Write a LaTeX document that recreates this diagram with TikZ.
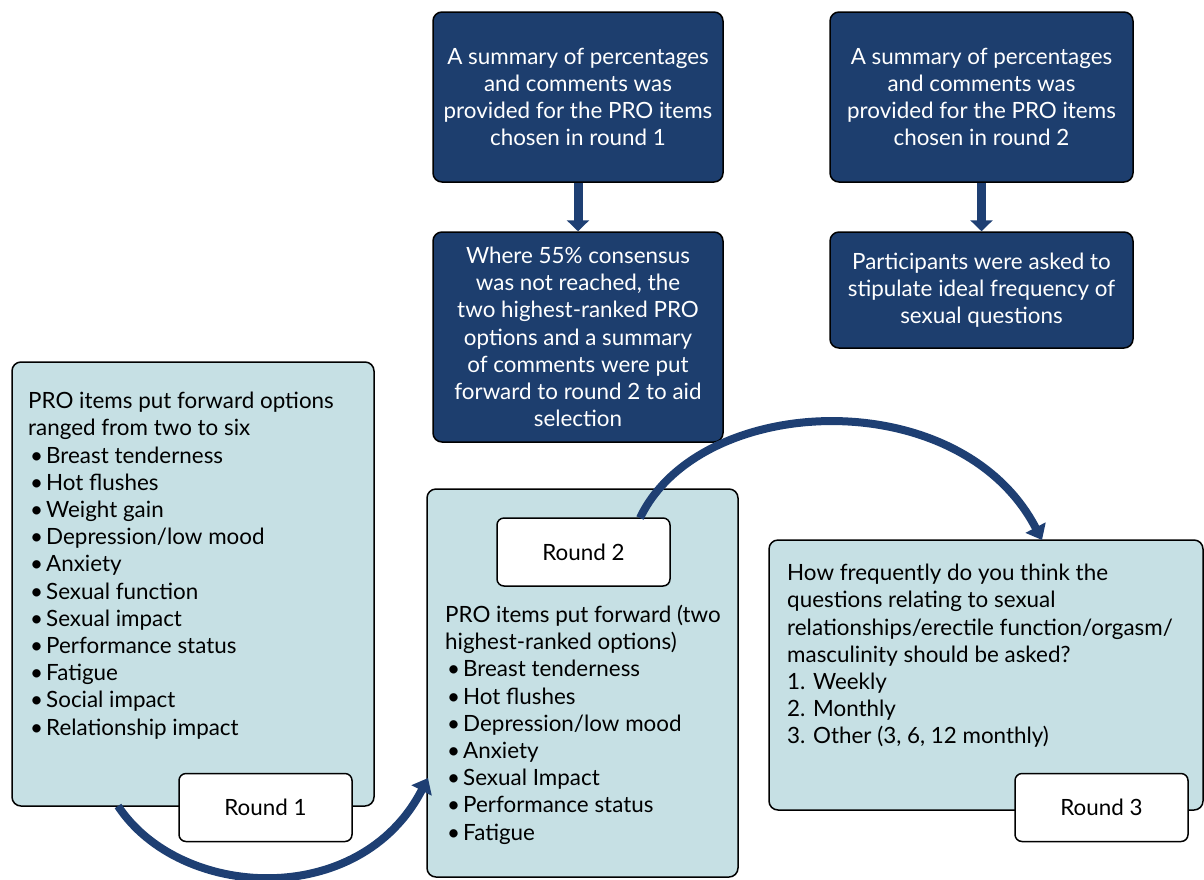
\documentclass[tikz,border=0pt]{standalone}
\usepackage{fontspec}
\setmainfont{Lato}
\usetikzlibrary{arrows.meta}
\definecolor{darkbox}{RGB}{29,62,110}
\definecolor{lightbox}{RGB}{198,224,228}
\definecolor{arrowblue}{RGB}{30,63,115}
\tikzset{
  darkstep/.style={draw=black, line width=1.5pt, fill=darkbox, rounded corners=9pt, text=white, align=center, inner sep=0pt},
  lightstep/.style={draw=black, line width=1.5pt, fill=lightbox, rounded corners=9pt, inner sep=0pt},
  roundlabel/.style={draw=black, line width=1.5pt, fill=white, rounded corners=7pt, inner sep=0pt, minimum width=173pt, minimum height=68pt},
  bodytext/.style={align=left, inner sep=0pt, anchor=north west},
  downarrow/.style={draw=arrowblue, line width=9pt, -{Triangle[width=22pt,length=11pt]}},
  bigarrow/.style={draw=arrowblue, line width=8pt, -{Triangle[width=22pt,length=14pt]}},
}
\newcommand{\bul}[1]{\makebox[18pt][l]{\hspace{2pt}•}#1}
\begin{document}
\begin{tikzpicture}[x=1pt,y=-1pt,font=\fontsize{22.4}{27.2}\selectfont]
\useasboundingbox (0,0) rectangle (1204,879);
% dark boxes
\node[darkstep, minimum width=290pt, minimum height=170pt] (d1) at (578,97)
  {A summary of percentages\\and comments was\\provided for the PRO items\\chosen in round 1};
\node[darkstep, minimum width=303pt, minimum height=170pt] (d2) at (981.5,97)
  {A summary of percentages\\and comments was\\provided for the PRO items\\chosen in round 2};
\node[darkstep, minimum width=290pt, minimum height=210pt] (d3) at (578,337)
  {Where 55\% consensus\\was not reached, the\\two highest-ranked PRO\\options and a summary\\of comments were put\\forward to round 2 to aid\\selection};
\node[darkstep, minimum width=303pt, minimum height=116pt] (d4) at (981.5,290)
  {Participants were asked to\\stipulate ideal frequency of\\sexual questions};
\draw[downarrow] (d1.south) -- (d3.north);
\draw[downarrow] (d2.south) -- (d4.north);
% light boxes
\node[lightstep, minimum width=362pt, minimum height=444pt] (l1) at (193,584) {};
\node[lightstep, minimum width=311pt, minimum height=388pt] (l2) at (582.5,683) {};
\node[lightstep, minimum width=434pt, minimum height=270pt] (l3) at (986,675) {};
% texts
\node[bodytext] (t1) at (28,392) {PRO items put forward options\\ranged from two to six\\
\bul{Breast tenderness}\\\bul{Hot flushes}\\\bul{Weight gain}\\\bul{Depression/low mood}\\
\bul{Anxiety}\\\bul{Sexual function}\\\bul{Sexual impact}\\\bul{Performance status}\\
\bul{Fatigue}\\\bul{Social impact}\\\bul{Relationship impact}};
\node[bodytext] (t2) at (445,605) {PRO items put forward (two\\highest-ranked options)\\
\bul{Breast tenderness}\\\bul{Hot flushes}\\\bul{Depression/low mood}\\\bul{Anxiety}\\
\bul{Sexual Impact}\\\bul{Performance status}\\\bul{Fatigue}};
\node[bodytext] (t3) at (787,564) {How frequently do you think the\\questions relating to sexual\\relationships/erectile function/orgasm/\\masculinity should be asked?\\1. Weekly\\2. Monthly\\3. Other (3, 6, 12 monthly)};
% round labels
\node[roundlabel] (r1) at (265.5,807.5) {Round 1};
\node[roundlabel] (r2) at (583.5,552) {Round 2};
\node[roundlabel] (r3) at (1101.5,807.5) {Round 3};
% curved arrows
\coordinate (a1s) at (118,806);
\coordinate (a1e) at (428,778);
\coordinate (a2s) at (640,518);
\coordinate (a2e) at (1042,540);
\draw[bigarrow] (a1s) .. controls (180,900) and (360,910) .. (a1e);
\draw[bigarrow] (a2s) .. controls (700,392) and (960,382) .. (a2e);
\end{tikzpicture}
\end{document}
